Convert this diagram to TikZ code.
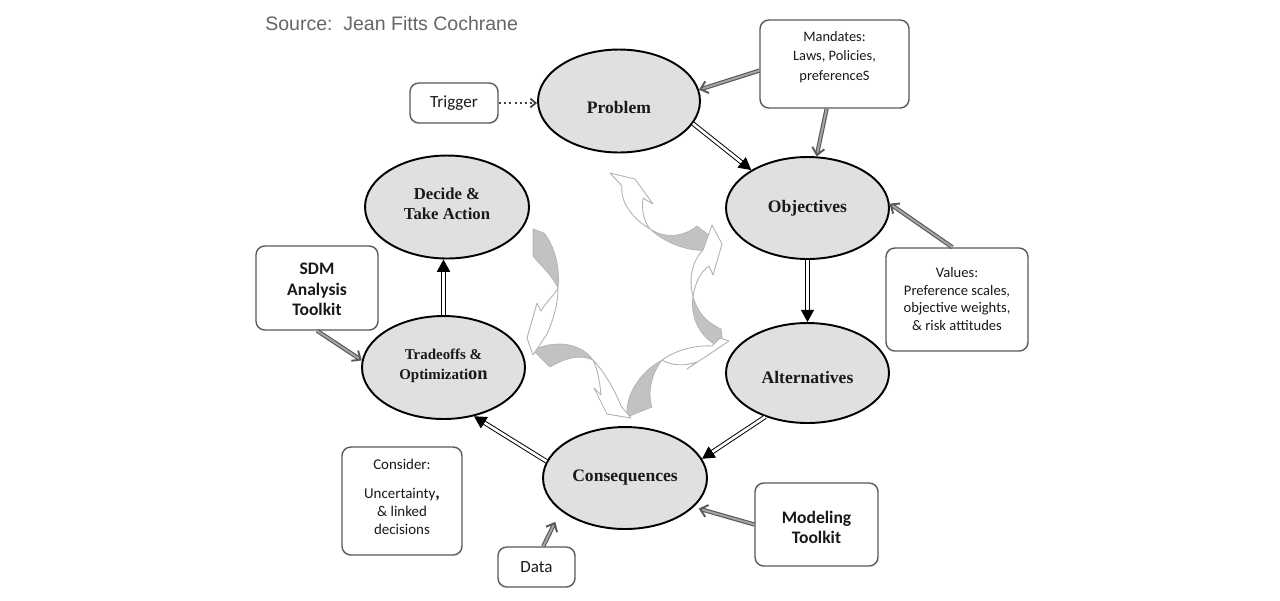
\documentclass[tikz,border=0pt]{standalone}
\usepackage{fontspec}
\setmainfont{Liberation Serif}
\newfontfamily\carl{Carlito}
\newfontfamily\arialf{Liberation Sans}
\usetikzlibrary{shapes.geometric,arrows.meta}
\begin{document}
\begin{tikzpicture}[x=0.02cm,y=-0.02cm,
  ell/.style={ellipse,draw=black,line width=1.1pt,fill=black!12,inner sep=0pt},
  etxt/.style={font=\bfseries\fontsize{10}{11.5}\selectfont,align=center,inner sep=0pt,text=black!90},
  box/.style={rectangle,draw=black!65,line width=0.8pt,rounded corners=5pt,fill=white,inner sep=0pt},
  btxt/.style={font=\carl\fontsize{8.3}{9.9}\selectfont,align=center,inner sep=0pt,text=black!90},
  bbold/.style={font=\carl\bfseries\fontsize{10}{11.7}\selectfont,align=center,inner sep=0pt,text=black!90},
  dbl/.style={draw=black,line width=0.55pt,double=white,double distance=1.5pt,-{Triangle[length=7pt,width=7.5pt]}},
  gdbl/.style={draw=black!65,line width=0.65pt,double=black!35,double distance=1.1pt,-{Straight Barb[length=4pt,width=7pt,line width=1.1pt]}},
  cg/.style={fill=black!24,draw=black!30,line width=0.4pt,line join=round},
  cw/.style={fill=white,draw=black!30,line width=0.5pt,line join=round}]
\useasboundingbox (0,0) rectangle (1280,600);
\fill[white] (0,0) rectangle (1280,600);

% source
\node[anchor=west,font=\arialf\fontsize{11.1}{13}\selectfont,text=black!60,inner sep=0pt] (src) at (265,24) {Source:\ \ Jean Fitts Cochrane};

% curved cycle arrows (decorative)
% top
\path[cw] (650,229) .. controls (632,218) and (620,202) .. (622,186) -- (610,173) -- (635,179) -- (653,204) -- (643,198) .. controls (641,212) and (645,223) .. (650,229) -- cycle;
\path[cg] (697,226) .. controls (682,238) and (664,238) .. (650,229) .. controls (666,244) and (690,252) .. (708,250) -- (710,236) -- cycle;
% right
\path[cw] (693,296) .. controls (688,278) and (693,260) .. (703,250) -- (712,225) -- (722,244) -- (713,275) -- (709,266) .. controls (700,272) and (695,284) .. (693,296) -- cycle;
\path[cg] (693,296) .. controls (690,318) and (700,338) .. (720,347) -- (722,338) -- (721,329) .. controls (706,322) and (697,312) .. (693,296) -- cycle;
% bottom right
\path[cw] (662,360) .. controls (676,350) and (695,345) .. (712,346) -- (720,338) -- (729,341) -- (687,369) -- (697,362) .. controls (685,366) and (672,366) .. (662,360) -- cycle;
\path[cg] (627,417) .. controls (625,395) and (640,372) .. (662,360) .. controls (652,373) and (647,392) .. (652,407) -- cycle;
% bottom left
\path[cw] (593,360) .. controls (603,370) and (615,390) .. (621,406) -- (631,418) -- (607,414) -- (594,388) -- (601,395) .. controls (600,382) and (597,368) .. (593,360) -- cycle;
\path[cg] (533,350) .. controls (555,340) and (580,342) .. (593,360) .. controls (580,354) and (565,358) .. (550,367) -- cycle;
% left
\path[cw] (558,288) .. controls (553,297) and (545,303) .. (541,311) -- (537,303) -- (527,338) -- (533,355) -- (547,334) .. controls (553,320) and (558,305) .. (558,288) -- cycle;
\path[cg] (533,229) -- (544,233) .. controls (556,248) and (560,270) .. (558,288) .. controls (552,275) and (541,266) .. (533,256) -- cycle;

% ellipses
\node[ell,minimum width=3.24cm,minimum height=2.06cm] (problem) at (619,101) {};
\node[ell,minimum width=3.26cm,minimum height=2.04cm] (objectives) at (807.5,208) {};
\node[ell,minimum width=3.26cm,minimum height=2.0cm] (alternatives) at (807.5,373) {};
\node[ell,minimum width=3.28cm,minimum height=2.04cm] (consequences) at (625,478) {};
\node[ell,minimum width=3.26cm,minimum height=2.06cm] (tradeoffs) at (443.5,367.5) {};
\node[ell,minimum width=3.28cm,minimum height=2.06cm] (decide) at (447,207) {};

\node[etxt] (problemT) at (619,107) {Problem};
\node[etxt] (objectivesT) at (807.5,208) {Objectives};
\node[etxt] (alternativesT) at (807.5,377) {Alternatives};
\node[etxt] (consequencesT) at (625,478) {Consequences};
\node[etxt,font=\bfseries\fontsize{9.5}{11.3}\selectfont] (decideT) at (447,204) {Decide \&\\Take Action};
\node[etxt,font=\bfseries\fontsize{8.5}{11.3}\selectfont] (tradeoffsT) at (443.5,366) {Tradeoffs \&\\Optimizati{\fontsize{10.5}{11.3}\selectfont on}};

% boxes
\node[box,minimum width=1.76cm,minimum height=0.8cm,font=\carl\fontsize{9.7}{11}\selectfont,text=black!90] (trigger) at (454,103) {Trigger};
\node[box,minimum width=2.98cm,minimum height=1.76cm] (mandates) at (834.5,64) {};
\node[btxt,font=\carl\fontsize{8.2}{11}\selectfont] (mandatesT) at (834.5,57) {Mandates:\\Laws, Policies,\\preferenceS};
\node[box,minimum width=2.84cm,minimum height=2.06cm] (values) at (957,299.5) {};
\node[btxt] (valuesT) at (957,299) {Values:\\Preference scales,\\objective weights,\\\& risk attitudes};
\node[box,minimum width=2.44cm,minimum height=1.68cm] (sdm) at (317,288) {};
\node[bbold] (sdmT) at (317,289.5) {SDM\\Analysis\\Toolkit};
\node[box,minimum width=2.4cm,minimum height=2.16cm] (consider) at (402,501) {};
\node[btxt,font=\carl\fontsize{8.5}{10.2}\selectfont] (considerT) at (402,497) {Consider:\\[6pt]Uncertainty{\bfseries\fontsize{10}{10}\selectfont,}\\\& linked\\decisions};
\node[box,minimum width=1.54cm,minimum height=0.8cm,font=\carl\fontsize{9.7}{11}\selectfont,text=black!90] (data) at (536.5,567) {Data};
\node[box,minimum width=2.46cm,minimum height=1.66cm] (modeling) at (816.5,524.5) {};
\node[bbold] (modelingT) at (816.5,527.5) {Modeling\\Toolkit};

% connectors
\draw[draw=black!75,line width=1pt,dash pattern=on 1.2pt off 1.8pt,-{Straight Barb[length=3pt,width=5pt]}] (trigger.east) -- (trigger.east -| problem.west);
\draw[gdbl] (mandates.185) -- (problem.8);
\draw[gdbl] (mandates.260) -- (objectives.80);
\draw[dbl] (problem.-17) -- (objectives.146);
\draw[dbl] (objectives.south) -- (alternatives.north);
\draw[gdbl] (values.95) -- (objectives.3);
\draw[dbl] (alternatives.226) -- (consequences.14);
\draw[dbl] (consequences.168) -- (tradeoffs.-58);
\draw[dbl] (tradeoffs.north) -- (tradeoffs.north |- decide.south);
\draw[gdbl] (sdm.south) -- (tradeoffs.175);
\draw[gdbl,shorten >=7pt] (data.72) -- (consequences.207);
\draw[gdbl,shorten >=3pt] (modeling.west) -- (consequences.-23);
\end{tikzpicture}
\end{document}
